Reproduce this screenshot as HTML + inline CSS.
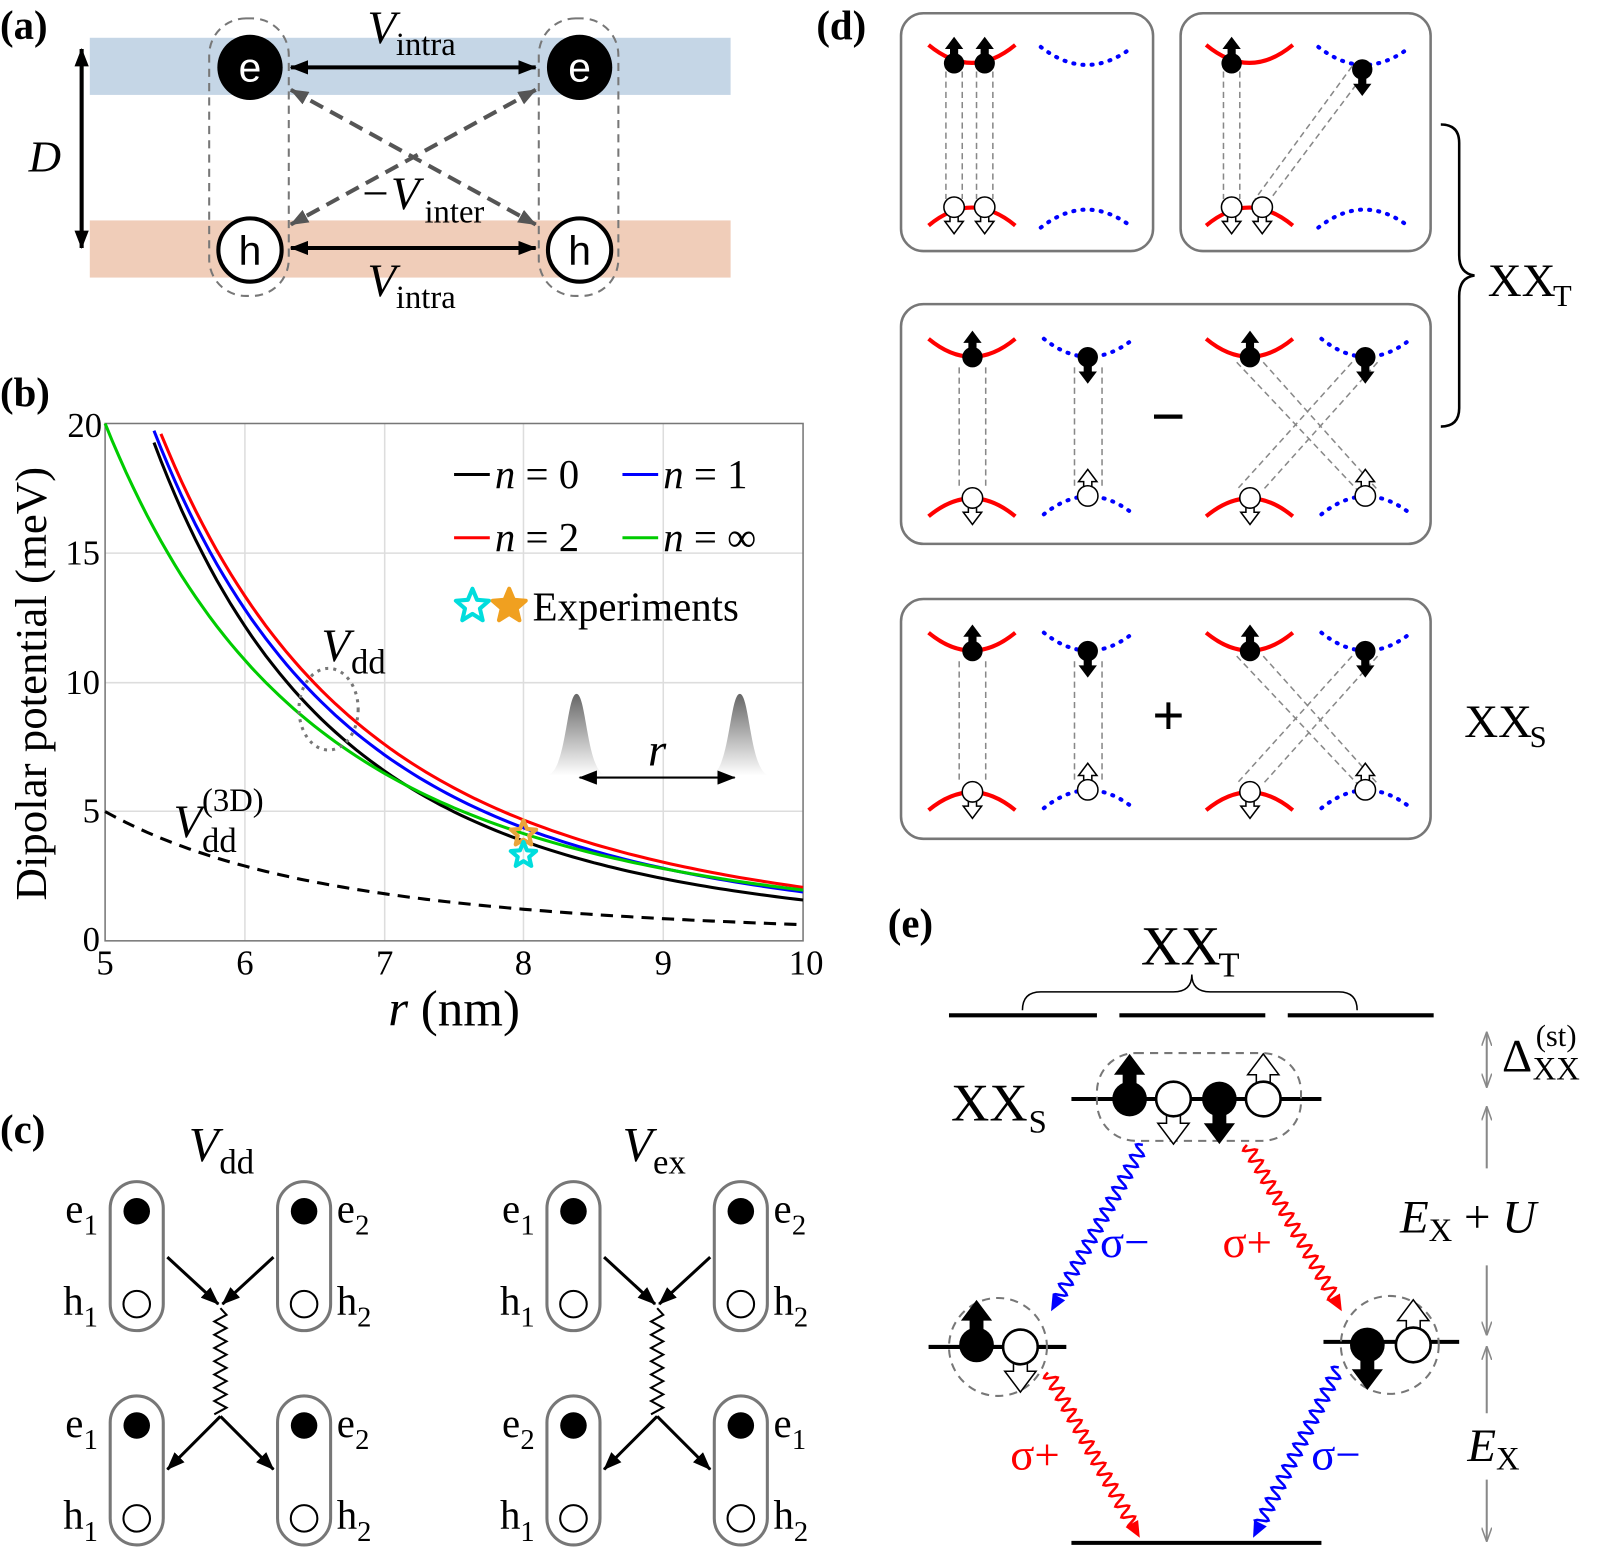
<!DOCTYPE html>
<html><head><meta charset="utf-8"><style>
html,body{margin:0;padding:0;background:#fff}
svg{display:block}
text{font-family:"Liberation Serif",serif;fill:#000}
.it{font-style:italic}
</style></head><body>
<svg id="s" width="1600" height="1548" viewBox="0 0 1568 1517" xmlns="http://www.w3.org/2000/svg">
<defs>
<marker id="ahb" markerWidth="18" markerHeight="14" refX="17" refY="7" orient="auto" markerUnits="userSpaceOnUse"><path d="M0,0L18,7L0,14z" fill="#000"/></marker>
<marker id="ahbs" markerWidth="18" markerHeight="14" refX="1" refY="7" orient="auto" markerUnits="userSpaceOnUse"><path d="M18,0L0,7L18,14z" fill="#000"/></marker>
<marker id="ahg" markerWidth="18" markerHeight="14" refX="17" refY="7" orient="auto" markerUnits="userSpaceOnUse"><path d="M0,0L18,7L0,14z" fill="#555"/></marker>
<marker id="ahgs" markerWidth="18" markerHeight="14" refX="1" refY="7" orient="auto" markerUnits="userSpaceOnUse"><path d="M18,0L0,7L18,14z" fill="#555"/></marker>
<marker id="ahgr" markerWidth="14" markerHeight="10" refX="13" refY="5" orient="auto" markerUnits="userSpaceOnUse"><path d="M0,0L14,5L0,10" fill="none" stroke="#888" stroke-width="1.5"/></marker>
<marker id="ahgrs" markerWidth="14" markerHeight="10" refX="1" refY="5" orient="auto" markerUnits="userSpaceOnUse"><path d="M14,0L0,5L14,10" fill="none" stroke="#888" stroke-width="1.5"/></marker>
<linearGradient id="gg" x1="0" y1="0" x2="0" y2="1"><stop offset="0" stop-color="#666"/><stop offset="1" stop-color="#fff"/></linearGradient>
</defs>

<!-- (a) -->
<rect x="88" y="37" width="628" height="56" fill="#c5d6e6"/>
<rect x="88" y="216" width="628" height="56" fill="#f0cdb9"/>
<rect x="205" y="18" width="78" height="272" rx="36" fill="none" stroke="#777" stroke-width="2" stroke-dasharray="8,6"/>
<rect x="528" y="18" width="78" height="272" rx="36" fill="none" stroke="#777" stroke-width="2" stroke-dasharray="8,6"/>
<line x1="285" y1="66" x2="525" y2="66" stroke="#000" stroke-width="4" marker-end="url(#ahb)" marker-start="url(#ahbs)"/>
<line x1="285" y1="243" x2="525" y2="243" stroke="#000" stroke-width="4" marker-end="url(#ahb)" marker-start="url(#ahbs)"/>
<line x1="285" y1="88" x2="525" y2="220" stroke="#555" stroke-width="4" stroke-dasharray="14,8" marker-end="url(#ahg)" marker-start="url(#ahgs)"/>
<line x1="525" y1="88" x2="285" y2="220" stroke="#555" stroke-width="4" stroke-dasharray="14,8" marker-end="url(#ahg)" marker-start="url(#ahgs)"/>
<line x1="80" y1="48" x2="80" y2="243" stroke="#000" stroke-width="4" marker-end="url(#ahb)" marker-start="url(#ahbs)"/>
<circle cx="245" cy="66" r="32" fill="#000"/><circle cx="568" cy="66" r="32" fill="#000"/>
<text x="245" y="80" font-size="40" text-anchor="middle" style="fill:#fff;font-family:'Liberation Sans',sans-serif">e</text>
<text x="568" y="80" font-size="40" text-anchor="middle" style="fill:#fff;font-family:'Liberation Sans',sans-serif">e</text>
<circle cx="245" cy="245" r="31" fill="#fff" stroke="#000" stroke-width="4"/><circle cx="568" cy="245" r="31" fill="#fff" stroke="#000" stroke-width="4"/>
<text x="245" y="259" font-size="40" text-anchor="middle" style="font-family:'Liberation Sans',sans-serif">h</text>
<text x="568" y="259" font-size="40" text-anchor="middle" style="font-family:'Liberation Sans',sans-serif">h</text>
<text x="0" y="38" font-size="40" font-weight="bold">(a)</text>
<text x="28" y="168" font-size="44" class="it">D</text>
<text x="360" y="42" font-size="46" class="it">V</text><text x="388" y="54" font-size="32">intra</text>
<text x="360" y="290" font-size="46" class="it">V</text><text x="388" y="302" font-size="32">intra</text>
<text x="352" y="205" font-size="46" class="it">−V</text><text x="416" y="218" font-size="32">inter</text>

<!-- (b) -->
<text x="0" y="398" font-size="40" font-weight="bold">(b)</text>
<g stroke="#ddd" stroke-width="1.5">
<line x1="240" y1="415" x2="240" y2="922"/><line x1="377" y1="415" x2="377" y2="922"/><line x1="513" y1="415" x2="513" y2="922"/><line x1="650" y1="415" x2="650" y2="922"/>
<line x1="103" y1="542" x2="787" y2="542"/><line x1="103" y1="669" x2="787" y2="669"/><line x1="103" y1="795" x2="787" y2="795"/>
</g>
<rect x="103" y="415" width="684" height="507" fill="none" stroke="#777" stroke-width="1.5"/>
<g font-size="34" text-anchor="middle">
<text x="103" y="955">5</text><text x="240" y="955">6</text><text x="377" y="955">7</text><text x="513" y="955">8</text><text x="650" y="955">9</text><text x="790" y="955">10</text>
</g>
<g font-size="34" text-anchor="end">
<text x="98" y="932">0</text><text x="98" y="806">5</text><text x="98" y="680">10</text><text x="98" y="553">15</text><text x="100" y="428">20</text>
</g>
<text x="445" y="1005" font-size="50" text-anchor="middle"><tspan class="it">r</tspan> (nm)</text>
<text transform="translate(45,670) rotate(-90)" font-size="44" text-anchor="middle">Dipolar potential (meV)</text>
<g fill="none" stroke-width="3">
<path id="pk" stroke="#000"/><path id="pr" stroke="#f00"/><path id="pb" stroke="#00f"/><path id="pg" stroke="#0c0"/>
<path id="pd" stroke="#000" stroke-dasharray="12,8"/>
</g>
<ellipse cx="322" cy="695" rx="29" ry="40" fill="none" stroke="#777" stroke-width="3" stroke-dasharray="3,5"/>
<text x="315" y="648" font-size="46" class="it">V</text><text x="344" y="660" font-size="34">dd</text>
<text x="170" y="820" font-size="46" class="it">V</text><text x="198" y="835" font-size="34">dd</text><text x="198" y="795" font-size="32">(3D)</text>
<g font-size="40">
<line x1="445" y1="465" x2="480" y2="465" stroke="#000" stroke-width="3"/><text x="485" y="478"><tspan class="it">n</tspan> = 0</text>
<line x1="610" y1="465" x2="645" y2="465" stroke="#00f" stroke-width="3"/><text x="650" y="478"><tspan class="it">n</tspan> = 1</text>
<line x1="445" y1="527" x2="480" y2="527" stroke="#f00" stroke-width="3"/><text x="485" y="540"><tspan class="it">n</tspan> = 2</text>
<line x1="610" y1="527" x2="645" y2="527" stroke="#0c0" stroke-width="3"/><text x="650" y="540"><tspan class="it">n</tspan> = ∞</text>
<text x="522" y="608">Experiments</text>
</g>
<g id="stars" fill="none" stroke-width="4"></g>
<path d="M535,760 C555,760 555,680 565,680 C575,680 575,760 595,760Z" fill="url(#gg)"/>
<path d="M695,760 C715,760 715,680 725,680 C735,680 735,760 755,760Z" fill="url(#gg)"/>
<line x1="568" y1="762" x2="720" y2="762" stroke="#000" stroke-width="2" marker-end="url(#ahb)" marker-start="url(#ahbs)"/>
<text x="635" y="750" font-size="46" class="it">r</text>

<!-- (c) -->
<text x="0" y="1120" font-size="40" font-weight="bold">(c)</text>
<g id="cg"></g>
<text x="185" y="1138" font-size="48" class="it">V</text><text x="215" y="1150" font-size="34">dd</text>
<text x="610" y="1138" font-size="48" class="it">V</text><text x="640" y="1150" font-size="34">ex</text>

<!-- (d) -->
<text x="800" y="38" font-size="40" font-weight="bold">(d)</text>
<g fill="none" stroke="#777" stroke-width="2.5">
<rect x="883" y="13" width="247" height="233" rx="22"/><rect x="1157" y="13" width="245" height="233" rx="22"/>
<rect x="883" y="298" width="519" height="235" rx="22"/><rect x="883" y="587" width="519" height="235" rx="22"/>
</g>
<g id="dg"></g>
<path d="M1412,122 Q1430,122 1430,140 L1430,250 Q1430,268 1445,270 Q1430,272 1430,290 L1430,400 Q1430,418 1412,418" fill="none" stroke="#000" stroke-width="2.5"/>
<text x="1458" y="290" font-size="46">XX</text><text x="1522" y="300" font-size="30">T</text>
<text x="1145" y="428" font-size="60" text-anchor="middle" font-weight="bold">−</text>
<text x="1145" y="720" font-size="56" text-anchor="middle" font-weight="bold">+</text>
<text x="1435" y="722" font-size="46">XX</text><text x="1499" y="732" font-size="30">S</text>

<!-- (e) -->
<text x="870" y="918" font-size="40" font-weight="bold">(e)</text>
<text x="1118" y="945" font-size="54">XX</text><text x="1194" y="957" font-size="34">T</text>
<path d="M1002,990 Q1002,972 1020,972 L1150,972 Q1168,972 1168,955 Q1168,972 1186,972 L1312,972 Q1330,972 1330,990" fill="none" stroke="#000" stroke-width="1.5"/>
<g stroke="#000" stroke-width="4">
<line x1="930" y1="995" x2="1075" y2="995"/><line x1="1097" y1="995" x2="1240" y2="995"/><line x1="1262" y1="995" x2="1405" y2="995"/>
<line x1="1050" y1="1077" x2="1295" y2="1077"/>
<line x1="910" y1="1320" x2="1045" y2="1320"/><line x1="1297" y1="1315" x2="1430" y2="1315"/>
<line x1="1050" y1="1512" x2="1295" y2="1512"/>
</g>
<rect x="1075" y="1032" width="200" height="86" rx="38" fill="none" stroke="#777" stroke-width="2" stroke-dasharray="8,6"/>
<circle cx="978" cy="1320" r="48" fill="none" stroke="#777" stroke-width="2" stroke-dasharray="8,6"/>
<circle cx="1362" cy="1318" r="48" fill="none" stroke="#777" stroke-width="2" stroke-dasharray="8,6"/>
<text x="932" y="1098" font-size="52">XX</text><text x="1008" y="1110" font-size="32">S</text>
<g id="eg"></g>
<g stroke="#888" stroke-width="2">
<line x1="1457" y1="1012" x2="1457" y2="1065" marker-end="url(#ahgr)" marker-start="url(#ahgrs)"/>
<line x1="1457" y1="1085" x2="1457" y2="1145" marker-start="url(#ahgrs)"/>
<line x1="1457" y1="1240" x2="1457" y2="1308" marker-end="url(#ahgr)"/>
<line x1="1457" y1="1320" x2="1457" y2="1385" marker-start="url(#ahgrs)"/>
<line x1="1457" y1="1450" x2="1457" y2="1510" marker-end="url(#ahgr)"/>
</g>
<text x="1472" y="1050" font-size="46">Δ</text><text x="1502" y="1058" font-size="32">XX</text><text x="1505" y="1025" font-size="30">(st)</text>
<text x="1372" y="1208" font-size="46"><tspan class="it">E</tspan><tspan font-size="32" dy="8">X</tspan><tspan dy="-8"> + </tspan><tspan class="it">U</tspan></text>
<text x="1438" y="1432" font-size="46"><tspan class="it">E</tspan><tspan font-size="32" dy="8">X</tspan></text>
<text x="1078" y="1232" font-size="44" style="fill:#00f">σ−</text>
<text x="1198" y="1232" font-size="44" style="fill:#f00">σ+</text>
<text x="990" y="1440" font-size="44" style="fill:#f00">σ+</text>
<text x="1285" y="1440" font-size="44" style="fill:#00f">σ−</text>
</svg>
<script>
var NS="http://www.w3.org/2000/svg";
function E(p,tag,a){var e=document.createElementNS(NS,tag);for(var k in a)e.setAttribute(k,a[k]);p.appendChild(e);return e;}
function X(r){return 103+136.8*(r-5);} function Y(v){return 922-25.35*v;}
function curve(id,f,r0){var d="";for(var r=r0;r<=10.001;r+=0.05){var v=f(r);if(v>20)continue;d+=(d?"L":"M")+X(r).toFixed(1)+","+Y(v).toFixed(1);}document.getElementById(id).setAttribute("d",d);}
curve("pk",function(r){return 20*Math.pow(5.3/r,4.0);},5);
curve("pr",function(r){return 20*Math.pow(5.37/r,3.65);},5);
curve("pb",function(r){return 20*Math.pow(5.33/r,3.75);},5);
curve("pg",function(r){return 20*Math.pow(5.0/r,3.35);},5);
curve("pd",function(r){return 5*Math.pow(5/r,3.0);},5);
var sg=document.getElementById("stars");
function star(cx,cy,R,col,fill){var d="";for(var i=0;i<10;i++){var rr=i%2?R*0.45:R,a=-Math.PI/2+i*Math.PI/5;d+=(i?"L":"M")+(cx+rr*Math.cos(a)).toFixed(1)+","+(cy+rr*Math.sin(a)).toFixed(1);}E(sg,"path",{d:d+"Z",stroke:col,fill:fill||"none","stroke-width":4,"stroke-linejoin":"round"});}
star(463,594,17,"#0dd");star(499,594,17,"#f0a020","#f0a020");
star(513,817,13,"#e9a43b");star(513,838,13,"#0dd");
var cg=document.getElementById("cg");
function pill(x,y){E(cg,"rect",{x:x,y:y,width:52,height:146,rx:26,fill:"none",stroke:"#777","stroke-width":3});E(cg,"circle",{cx:x+26,cy:y+29,r:13,fill:"#000"});E(cg,"circle",{cx:x+26,cy:y+120,r:13,fill:"#fff",stroke:"#000","stroke-width":2});}
function lbl(x,y,a,b){var t=E(cg,"text",{x:x,y:y,"font-size":40});t.textContent=a;var s=E(cg,"text",{x:x+(a=="h"?20:18),y:y+12,"font-size":28});s.textContent=b;}
[0,428].forEach(function(o,i){
pill(108+o,1158);pill(272+o,1158);pill(108+o,1368);pill(272+o,1368);
var m=216+o;
E(cg,"line",{x1:164+o,y1:1232,x2:m-2,y2:1278,stroke:"#000","stroke-width":3,"marker-end":"url(#ahb)"});
E(cg,"line",{x1:268+o,y1:1232,x2:m+2,y2:1278,stroke:"#000","stroke-width":3,"marker-end":"url(#ahb)"});
var d="M"+m+",1282";for(var k=1;k<=16;k++){d+="L"+(m+(k%2?6:-6))+","+(1282+k*6.5);}
E(cg,"path",{d:d,fill:"none",stroke:"#000","stroke-width":2});
E(cg,"line",{x1:m,y1:1388,x2:164+o,y2:1440,stroke:"#000","stroke-width":3,"marker-end":"url(#ahb)"});
E(cg,"line",{x1:m,y1:1388,x2:268+o,y2:1440,stroke:"#000","stroke-width":3,"marker-end":"url(#ahb)"});
lbl(64+o,1198,"e","1");lbl(62+o,1288,"h","1");lbl(330+o,1198,"e","2");lbl(330+o,1288,"h","2");
lbl(64+o,1408,"e",i?"2":"1");lbl(62+o,1498,"h","1");lbl(330+o,1408,"e",i?"1":"2");lbl(330+o,1498,"h","2");
});
var dg=document.getElementById("dg");
function band(g,x,y,w,col,dot,up){var h=up?-16:16;var a={d:"M"+x+","+(y+h)+" Q"+(x+w/2)+","+(y-h*1.2)+" "+(x+w)+","+(y+h),fill:"none",stroke:col,"stroke-width":4};if(dot){a["stroke-dasharray"]="1,8";a["stroke-linecap"]="round";}E(g,"path",a);}
function arr(g,x,y,d,s,fill,sw){E(g,"path",{d:"M"+(x-4*s)+","+y+"L"+(x-4*s)+","+(y+d*14*s)+"L"+(x-9*s)+","+(y+d*14*s)+"L"+x+","+(y+d*26*s)+"L"+(x+9*s)+","+(y+d*14*s)+"L"+(x+4*s)+","+(y+d*14*s)+"L"+(x+4*s)+","+y+"Z",fill:fill,stroke:"#000","stroke-width":sw});}
function el(g,x,y,up,s){s=s||1;arr(g,x,y,up?-1:1,s,"#000",0);E(g,"circle",{cx:x,cy:y,r:10*s,fill:"#000"});}
function ho(g,x,y,up,s){s=s||1;arr(g,x,y,up?-1:1,s,"#fff",1.5);E(g,"circle",{cx:x,cy:y,r:10*s,fill:"#fff",stroke:"#000","stroke-width":1.5*s});}
function dl(x1,y1,x2,y2){E(dg,"line",{x1:x1,y1:y1,x2:x2,y2:y2,stroke:"#888","stroke-width":1.5,"stroke-dasharray":"6,4"});}
band(dg,910,60,85,"#f00",0,1);band(dg,1020,62,90,"#00f",1,1);band(dg,910,205,85,"#f00",0,0);band(dg,1020,207,90,"#00f",1,0);
[935,965].forEach(function(x){dl(x-8,70,x-8,195);dl(x+8,70,x+8,195);el(dg,x,62,1);ho(dg,x,203,0);});
band(dg,1182,60,85,"#f00",0,1);band(dg,1292,62,90,"#00f",1,1);band(dg,1182,205,85,"#f00",0,0);band(dg,1292,207,90,"#00f",1,0);
dl(1199,70,1199,195);dl(1215,70,1215,195);dl(1335,75,1245,195);dl(1325,65,1230,195);
el(dg,1207,62,1);el(dg,1335,68,0);ho(dg,1207,203,0);ho(dg,1237,203,0);
[0,288].forEach(function(o){
band(dg,910,348+o,85,"#f00",0,1);band(dg,1023,348+o,88,"#00f",1,1);band(dg,910,490+o,85,"#f00",0,0);band(dg,1023,488+o,88,"#00f",1,0);
band(dg,1182,348+o,85,"#f00",0,1);band(dg,1295,348+o,88,"#00f",1,1);band(dg,1182,490+o,85,"#f00",0,0);band(dg,1295,488+o,88,"#00f",1,0);
dl(940,360+o,940,480+o);dl(966,360+o,966,480+o);dl(1053,360+o,1053,478+o);dl(1080,360+o,1080,478+o);
dl(1212,355+o,1330,480+o);dl(1238,355+o,1350,480+o);dl(1325,355+o,1212,480+o);dl(1350,355+o,1238,480+o);
el(dg,953,350+o,1);el(dg,1066,350+o,0);ho(dg,953,488+o,0);ho(dg,1066,486+o,1);
el(dg,1225,350+o,1);el(dg,1338,350+o,0);ho(dg,1225,488+o,0);ho(dg,1338,486+o,1);
});
var eg=document.getElementById("eg");
el(eg,1107,1077,1,1.7);ho(eg,1150,1077,0,1.7);el(eg,1195,1077,0,1.7);ho(eg,1238,1077,1,1.7);
el(eg,957,1318,1,1.7);ho(eg,1000,1320,0,1.7);el(eg,1340,1318,0,1.7);ho(eg,1385,1318,1,1.7);
function wavy(x1,y1,x2,y2,col){var dx=x2-x1,dy=y2-y1,L=Math.hypot(dx,dy),ux=dx/L,uy=dy/L,px=-uy,py=ux;var d="",n=Math.floor((L-14)/1.5);for(var i=0;i<=n;i++){var t=i*1.5,a=Math.sin(t/12*2*Math.PI)*6;var x=x1+ux*t+px*a,y=y1+uy*t+py*a;d+=(i?"L":"M")+x.toFixed(1)+","+y.toFixed(1);}
E(eg,"path",{d:d,fill:"none",stroke:col,"stroke-width":2.5});var bx=x2-ux*16,by=y2-uy*16;E(eg,"path",{d:"M"+x2+","+y2+"L"+(bx+px*7)+","+(by+py*7)+"L"+(bx-px*7)+","+(by-py*7)+"Z",fill:col});}
wavy(1120,1122,1030,1285,"#00f");wavy(1222,1122,1315,1285,"#f00");wavy(1027,1345,1117,1507,"#f00");wavy(1312,1340,1228,1507,"#00f");
</script>
</body></html>
